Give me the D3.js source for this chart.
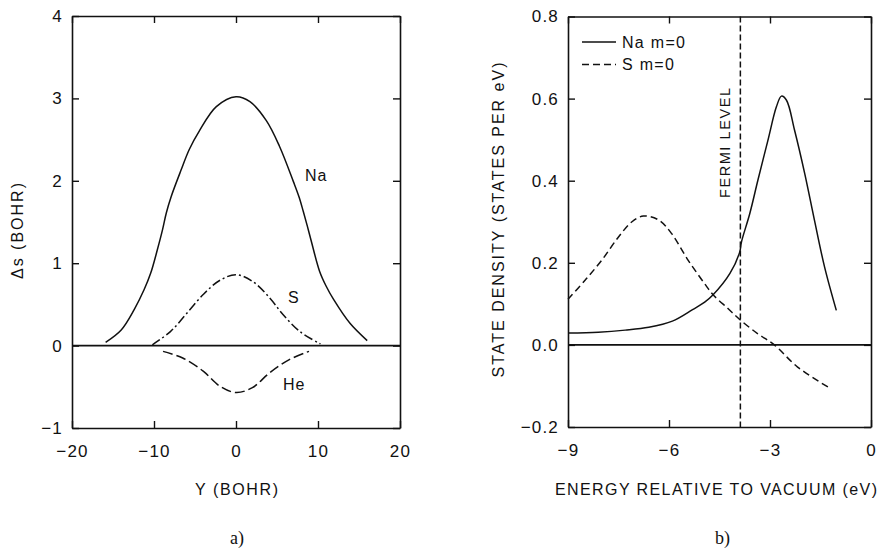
<!DOCTYPE html>
<html>
<head>
<meta charset="utf-8">
<script src="https://cdn.jsdelivr.net/npm/d3@7"></script>
<style>
  html, body { margin: 0; padding: 0; background: #fff; }
  svg { display: block; }
  text { font-family: "Liberation Sans", Arial, Helvetica, sans-serif; fill: #111; }
  .tick text { font-size: 17px; letter-spacing: 1.2px; }
  .serif { font-family: "Liberation Serif", "Times New Roman", serif; }
</style>
</head>
<body>
<svg id="fig" width="884" height="550"></svg>
<script>
// ---- Panel a: displacement Δs versus lateral position Y (bohr) ----
const naShift = [
  [-15.9, 0.04], [-14.0, 0.19], [-12.4, 0.44], [-11.2, 0.68], [-10.4, 0.88],
  [-9.6, 1.16], [-8.95, 1.41], [-8.5, 1.61], [-7.9, 1.81], [-6.7, 2.13],
  [-5.7, 2.38], [-4.5, 2.60], [-2.4, 2.90], [0, 3.02], [1.7, 2.96],
  [3.7, 2.73], [5.3, 2.42], [7.0, 1.99], [7.7, 1.80], [8.2, 1.63],
  [8.7, 1.45], [9.2, 1.26], [10.2, 0.90], [11.0, 0.72], [11.9, 0.56],
  [13.9, 0.27], [16.0, 0.06]
];
const sShift = [
  [-10.2, 0.01], [-8.0, 0.17], [-6.1, 0.38], [-4.0, 0.62], [-2.0, 0.79],
  [0, 0.86], [2.0, 0.78], [4.1, 0.58], [5.7, 0.38], [7.8, 0.17], [10.3, 0.02]
];
const heShift = [
  [-8.9, -0.07], [-6.5, -0.15], [-4.0, -0.31], [-2.0, -0.49], [0, -0.57],
  [2.0, -0.51], [4.1, -0.33], [6.5, -0.17], [8.9, -0.07]
];
const yTicksA = [-1, 0, 1, 2, 3, 4];
const xTicksA = [-20, -10, 0, 10, 20];

// ---- Panel b: m=0 state density versus energy (eV) ----
const naDos = [
  [-9.0, 0.029], [-8.1, 0.031], [-7.3, 0.036], [-6.6, 0.043], [-5.9, 0.058],
  [-5.3, 0.086], [-4.94, 0.104], [-4.69, 0.122], [-4.19, 0.174], [-3.9, 0.226],
  [-3.85, 0.250], [-3.6, 0.320], [-3.36, 0.401], [-3.06, 0.499], [-2.81, 0.580],
  [-2.66, 0.606], [-2.51, 0.596], [-2.27, 0.523], [-1.97, 0.418], [-1.68, 0.304],
  [-1.38, 0.190], [-1.03, 0.084]
];
const sDos = [
  [-9.0, 0.111], [-8.5, 0.157], [-8.0, 0.206], [-7.5, 0.263], [-7.1, 0.300],
  [-6.76, 0.314], [-6.3, 0.304], [-5.92, 0.271], [-5.43, 0.206], [-4.94, 0.149],
  [-4.69, 0.122], [-4.24, 0.088], [-3.9, 0.062], [-3.36, 0.027], [-2.87, 0.0],
  [-2.18, -0.054], [-1.19, -0.107]
];
const fermiLevel = -3.88;
const yTicksB = [-0.2, 0.0, 0.2, 0.4, 0.6, 0.8];
const xTicksB = [-9, -6, -3, 0];
const legendB = [
  { label: "Na m=0", dash: null },
  { label: "S m=0", dash: "7,4" }
];

const svg = d3.select("#fig");
const ink = "#111";

function frame(g, x, y, xTicks, yTicks, xFmt, yFmt) {
  const [x0, x1] = x.range();
  const [y0, y1] = y.range();
  const T = 7;
  const bottom = g.append("g").attr("transform", `translate(0,${y0})`)
    .call(d3.axisBottom(x).tickValues(xTicks).tickFormat(xFmt).tickSizeInner(-T).tickSizeOuter(0).tickPadding(17));
  const top = g.append("g").attr("transform", `translate(0,${y1})`)
    .call(d3.axisTop(x).tickValues(xTicks).tickFormat("").tickSizeInner(-T).tickSizeOuter(0));
  const left = g.append("g").attr("transform", `translate(${x0},0)`)
    .call(d3.axisLeft(y).tickValues(yTicks).tickFormat(yFmt).tickSizeInner(-T).tickSizeOuter(0).tickPadding(9));
  const right = g.append("g").attr("transform", `translate(${x1},0)`)
    .call(d3.axisRight(y).tickValues(yTicks).tickFormat("").tickSizeInner(-T).tickSizeOuter(0));
  [bottom, top, left, right].forEach(a => {
    a.selectAll("path.domain").attr("stroke", ink).attr("stroke-width", 1.6);
    a.selectAll(".tick line").attr("stroke", ink).attr("stroke-width", 1.4);
    a.selectAll(".tick text").attr("fill", ink).attr("font-family", null).attr("font-size", null);
  });
  // zero reference line across the plot
  g.append("line")
    .attr("x1", x0).attr("x2", x1).attr("y1", y(0)).attr("y2", y(0))
    .attr("stroke", ink).attr("stroke-width", 1.6);
}

function curve(g, x, y, data, dash) {
  g.append("path")
    .datum(data)
    .attr("fill", "none")
    .attr("stroke", ink)
    .attr("stroke-width", 1.5)
    .attr("stroke-dasharray", dash)
    .attr("d", d3.line().x(d => x(d[0])).y(d => y(d[1])).curve(d3.curveCatmullRom.alpha(0.5)));
}

// ================= Panel a =================
const xA = d3.scaleLinear().domain([-20, 20]).range([72, 400]);
const yA = d3.scaleLinear().domain([-1, 4]).range([428, 16]);
const gA = svg.append("g");
frame(gA, xA, yA, xTicksA, yTicksA, d3.format("d"), d3.format("d"));
curve(gA, xA, yA, naShift, null);
curve(gA, xA, yA, sShift, "9,3,2,3");
curve(gA, xA, yA, heShift, "10,4");

gA.append("text").attr("x", 305).attr("y", 181).attr("font-size", 16).attr("letter-spacing", 1).text("Na");
gA.append("text").attr("x", 288).attr("y", 303).attr("font-size", 16).text("S");
gA.append("text").attr("x", 283).attr("y", 390).attr("font-size", 16).attr("letter-spacing", 1).text("He");

gA.append("text").attr("x", 236.5).attr("y", 495).attr("text-anchor", "middle")
  .attr("font-size", 16).attr("textLength", 83).attr("lengthAdjust", "spacing").text("Y (BOHR)");
gA.append("text").attr("transform", "translate(23,231) rotate(-90)").attr("text-anchor", "middle")
  .attr("font-size", 16).attr("textLength", 96).attr("lengthAdjust", "spacing").text("Δs (BOHR)");
gA.append("text").attr("class", "serif").attr("x", 237).attr("y", 544).attr("text-anchor", "middle")
  .attr("font-size", 18).text("a)");

// ================= Panel b =================
const xB = d3.scaleLinear().domain([-9, 0]).range([568, 871]);
const yB = d3.scaleLinear().domain([-0.2, 0.8]).range([427, 16.5]);
const gB = svg.append("g");
frame(gB, xB, yB, xTicksB, yTicksB, d3.format("d"), d3.format(".1f"));
curve(gB, xB, yB, sDos, "7,4");
curve(gB, xB, yB, naDos, null);

// Fermi level marker
gB.append("line")
  .attr("x1", xB(fermiLevel)).attr("x2", xB(fermiLevel))
  .attr("y1", yB(0.8)).attr("y2", yB(-0.2))
  .attr("stroke", ink).attr("stroke-width", 1.5).attr("stroke-dasharray", "6,3");
gB.append("text").attr("transform", "translate(730,143) rotate(-90)").attr("text-anchor", "middle")
  .attr("font-size", 14.5).attr("textLength", 110).attr("lengthAdjust", "spacing").text("FERMI LEVEL");

// legend
const leg = gB.selectAll("g.leg").data(legendB).enter().append("g")
  .attr("transform", (d, i) => `translate(582,${42 + i * 22.5})`);
leg.append("line").attr("x1", 0).attr("x2", 34).attr("y1", 0).attr("y2", 0)
  .attr("stroke", ink).attr("stroke-width", 1.5).attr("stroke-dasharray", d => d.dash);
leg.append("text").attr("x", 40).attr("y", 5.5).attr("font-size", 16).attr("letter-spacing", 1.3).text(d => d.label);

gB.append("text").attr("x", 716).attr("y", 495).attr("text-anchor", "middle")
  .attr("font-size", 16).attr("textLength", 322).attr("lengthAdjust", "spacing").text("ENERGY RELATIVE TO VACUUM (eV)");
gB.append("text").attr("transform", "translate(504,220) rotate(-90)").attr("text-anchor", "middle")
  .attr("font-size", 16).attr("textLength", 315).attr("lengthAdjust", "spacing").text("STATE DENSITY (STATES PER eV)");
gB.append("text").attr("class", "serif").attr("x", 722.5).attr("y", 544).attr("text-anchor", "middle")
  .attr("font-size", 18).text("b)");
</script>
</body>
</html>
